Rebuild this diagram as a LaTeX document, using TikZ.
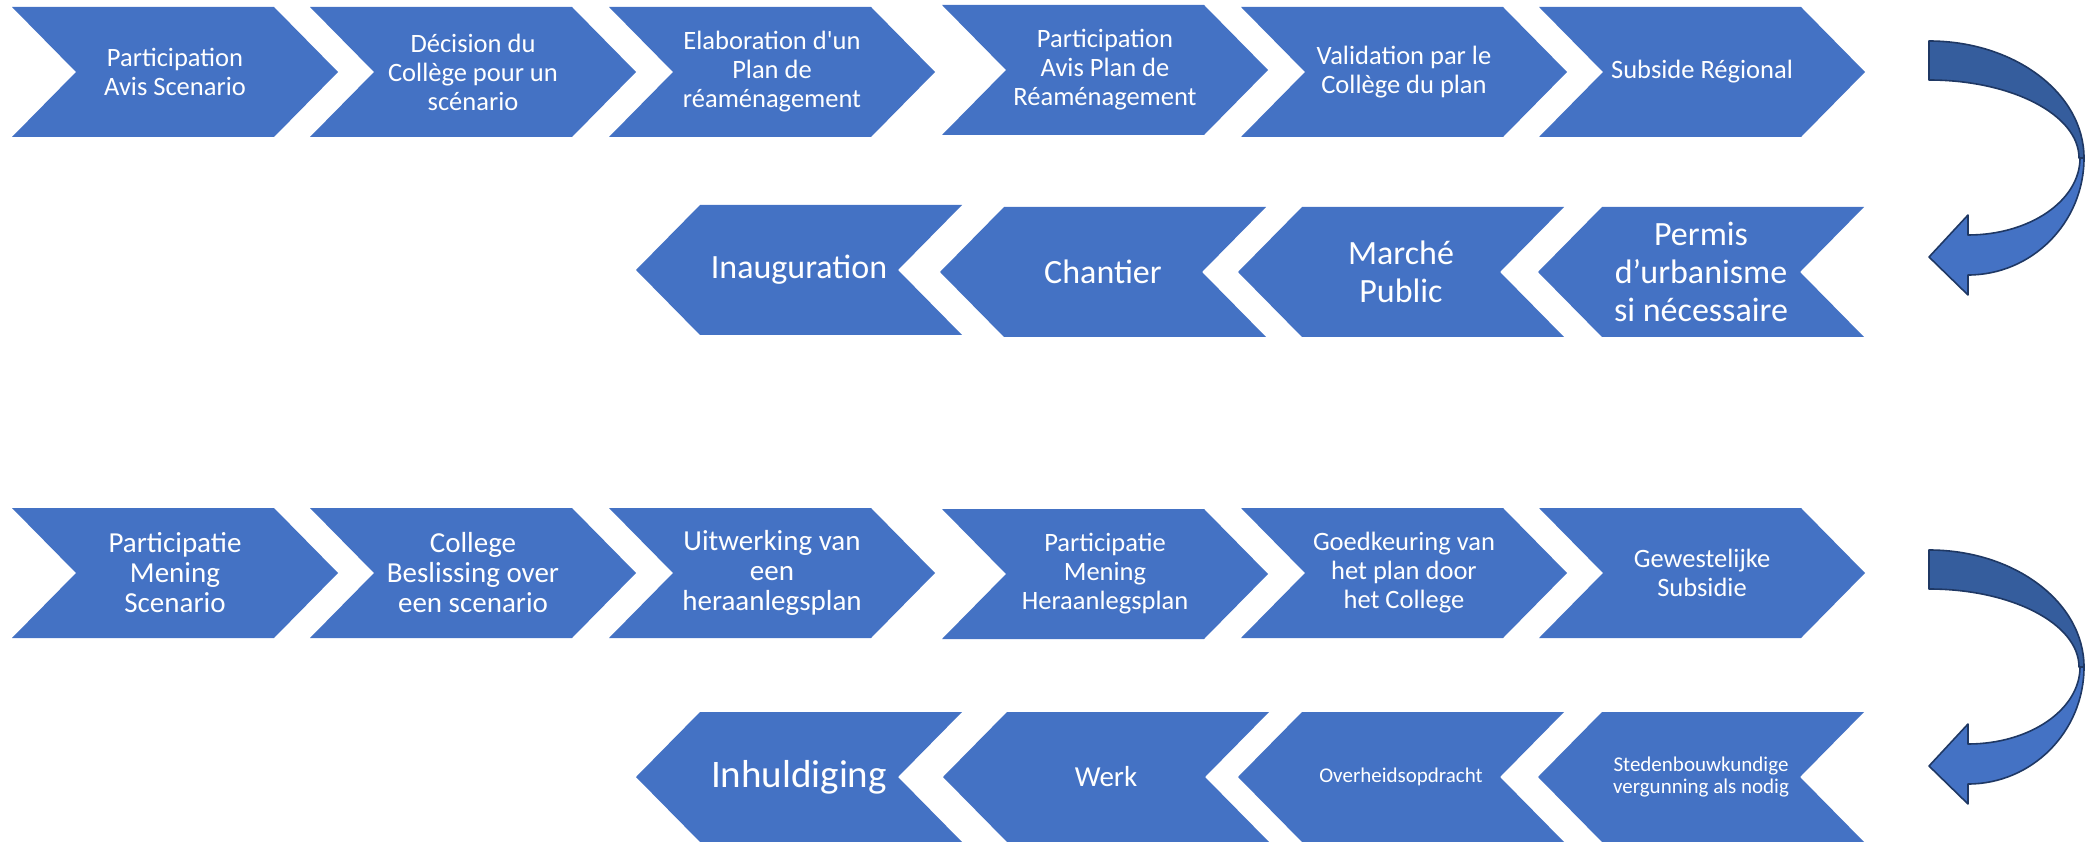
\documentclass[tikz,border=0pt]{standalone}
\usepackage{fontspec}
\newfontfamily\carl{Carlito}
\definecolor{cblue}{HTML}{4472C4}
\definecolor{cdark}{HTML}{355D9D}
\definecolor{cline}{HTML}{1F3864}
\tikzset{
  lbl/.style={text=white, align=center, inner sep=0pt},
  chevfill/.style={fill=cblue},
  bandback/.style={fill=cdark, draw=cline, line width=1.6pt, line join=round},
  bandfront/.style={fill=cblue, draw=cline, line width=1.6pt, line join=round}
}
% right-pointing chevron: name, left x, top y, font size, skip, text
\newcommand\chevR[6]{%
  \fill[chevfill] (#2,#3) -- ++(262,0) -- ++(64,65) -- ++(-64,65) -- ++(-262,0) -- ++(64,-65) -- cycle;
  \node[lbl, font=\carl\fontsize{#4}{#5}\selectfont] (#1) at (#2+163,#3+65) {#6};}
% left-pointing chevron: name, tip x, top y, font size, skip, text
\newcommand\chevL[6]{%
  \fill[chevfill] (#2,#3+65) -- ++(64,-65) -- ++(262,0) -- ++(-64,65) -- ++(64,65) -- ++(-262,0) -- cycle;
  \node[lbl, font=\carl\fontsize{#4}{#5}\selectfont] (#1) at (#2+163,#3+65) {#6};}
% curved arrow, centre y of the turn
\newcommand\turnarrow[1]{%
  \path[bandback] (1929,#1-117) arc[start angle=-90, end angle=0, x radius=155, y radius=117]
     -- (2079,#1) arc[start angle=0, end angle=-90, x radius=150, y radius=78] -- cycle;
  \path[bandfront] (2084,#1) arc[start angle=0, end angle=90, x radius=116, y radius=117]
     -- (1968,#1+137) -- (1929,#1+99) -- (1968,#1+57) -- (1968,#1+77)
     arc[start angle=90, end angle=0, x radius=112, y radius=77] -- cycle;}
\begin{document}
\begin{tikzpicture}[x=1pt,y=-1pt]
\useasboundingbox (0,0) rectangle (2086,842);
% French, first row
\chevR{f1}{12}{7}{26.5pt}{29pt}{Participation\\Avis Scenario}
\chevR{f2}{310}{7}{26.5pt}{29pt}{Décision du\\Collège pour un\\scénario}
\chevR{f3}{609}{7}{26.5pt}{29pt}{Elaboration d'un\\Plan de\\réaménagement}
\chevR{f4}{942}{5}{26.5pt}{29pt}{Participation\\Avis Plan de\\Réaménagement}
\chevR{f5}{1241}{7}{26.5pt}{29pt}{Validation par le\\Collège du plan}
\chevR{f6}{1539}{7}{26.5pt}{29pt}{Subside Régional}
\turnarrow{158}
% French, second row
\chevL{f7}{1538}{207}{34pt}{38pt}{Permis\\d’urbanisme\\si nécessaire}
\chevL{f8}{1238}{207}{34pt}{38pt}{Marché\\Public}
\chevL{f9}{940}{207}{34pt}{38pt}{Chantier}
\chevL{f10}{636}{205}{34pt}{38pt}{Inauguration}
% Dutch, first row
\chevR{n1}{12}{508}{29pt}{30pt}{Participatie\\Mening\\Scenario}
\chevR{n2}{310}{508}{29pt}{30pt}{College\\Beslissing over\\een scenario}
\chevR{n3}{609}{508}{29pt}{30pt}{Uitwerking van\\een\\heraanlegsplan}
\chevR{n4}{942}{509}{26.5pt}{29pt}{Participatie\\Mening\\Heraanlegsplan}
\chevR{n5}{1241}{508}{26.5pt}{29pt}{Goedkeuring van\\het plan door\\het College}
\chevR{n6}{1539}{508}{26.5pt}{29pt}{Gewestelijke\\Subsidie}
\turnarrow{667}
% Dutch, second row
\chevL{n7}{1538}{712}{21pt}{22pt}{Stedenbouwkundige\\vergunning als nodig}
\chevL{n8}{1238}{712}{21pt}{22pt}{Overheidsopdracht}
\chevL{n9}{943}{712}{29pt}{30pt}{Werk}
\chevL{n10}{636}{712}{39pt}{40pt}{Inhuldiging}
\end{tikzpicture}
\end{document}
